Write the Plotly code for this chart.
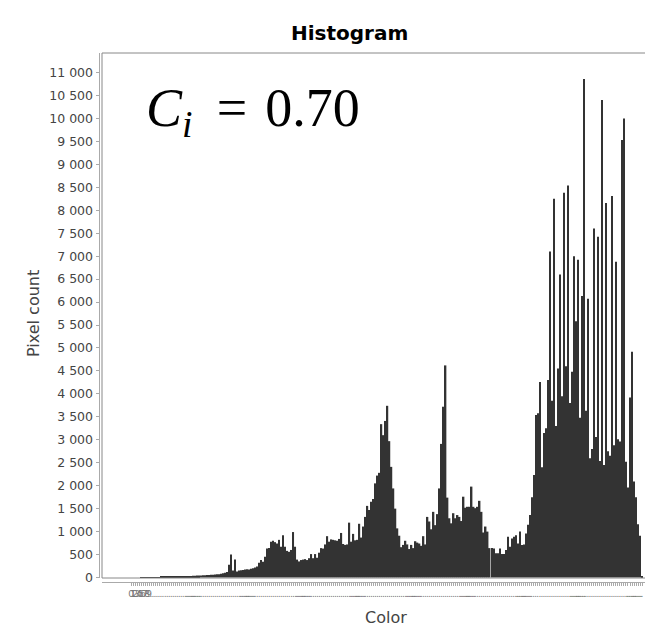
import plotly.graph_objects as go

# The page body adds an 8 px margin, so the figure is drawn 8 px smaller
# and all reference pixel positions are shifted by that amount.
OFF = 8
W, H = 653 - OFF, 628 - OFF

categories = list(range(256))

pixel_counts = [
    0, 0, 0, 0, 0, 1, 1, 2, 3, 4,
    5, 6, 7, 9, 10, 12, 13, 15, 16, 18,
    19, 21, 22, 24, 25, 27, 28, 30, 31, 33,
    35, 37, 38, 41, 43, 45, 48, 50, 53, 56,
    58, 61, 64, 68, 73, 80, 90, 102,
    120, 280, 500, 150, 390, 130, 150, 160, 165, 175, 180, 175,
    190, 200, 215, 240, 320, 380, 345, 450, 630, 640,
    780, 800, 770, 740, 820, 670, 920, 670, 580, 560,
    600, 990, 670, 390, 350, 380, 390, 400, 380, 420,
    510, 420, 510, 430, 540, 640, 630, 720, 900, 780,
    830, 820, 810, 800, 840, 970, 730, 710, 720, 1195,
    780, 950, 810, 820, 1170, 870, 1110, 1320, 1560, 1470,
    1650, 1710, 2050, 2220, 2280, 3340, 3100, 3410, 3740, 2970,
    2410, 1940, 1500, 1070, 910, 660, 710, 800, 720, 620,
    710, 640, 790, 760, 740, 690, 900, 720, 1320, 1220,
    1050, 1430, 1140, 1380, 1940, 2910, 3720, 4620, 1740, 1290,
    1180, 1400, 1290, 1360, 1320, 1230, 1760, 1520, 1540, 1540,
    1980, 1540, 1510, 1540, 1670, 1430, 980, 1110, 1000, 640,
    640, 630, 530, 530, 630, 510, 510, 600, 890, 670,
    850, 890, 920, 740, 1000, 710, 720, 960, 1150, 1360,
    1750, 2230, 3540, 3580, 4260, 2400, 3150, 3250, 4300, 7100,
    3850, 8250, 3300, 4550, 6600, 3950, 8380, 4600, 8540, 3800,
    4480, 7000, 5580, 6920, 3480, 6130, 10860, 3630, 6070, 2600,
    2800, 7600, 3060, 7420, 2540, 10400, 2450, 8160, 2750, 2650,
    8310, 2880, 6880, 3010, 2960, 9530, 10000, 2520, 1960, 3920,
    4920, 2090, 1750, 1160, 910, 20,
]

y_tick_values = list(range(0, 11001, 500))
y_tick_labels = ["0", "500", "1 000", "1 500", "2 000", "2 500", "3 000", "3 500",
                 "4 000", "4 500", "5 000", "5 500", "6 000", "6 500", "7 000",
                 "7 500", "8 000", "8 500", "9 000", "9 500", "10 000", "10 500",
                 "11 000"]

# category labels are truncated ("...") as in the original rendering
dash_categories = [31, 58, 86, 113, 141, 168, 196, 223, 251]
x_tick_labels = []
for c in categories:
    if c < 10:
        x_tick_labels.append(str(c))
    elif any(abs(c - d) <= 2 for d in dash_categories):
        x_tick_labels.append("...")
    else:
        x_tick_labels.append(".")

title_text = "<b>Histogram</b>"
x_title = "Color"
y_title = "Pixel count"
note_text = "<i>C</i><sub><i>i</i></sub>\u2005\u2009=\u20040.70"


def px(x):
    return (x - OFF) / W


def py(y):
    return 1 - (y - OFF) / H


# geometry in reference pixels
px_left, px_right, px_top, px_bottom = 102, 652, 53, 578
x_axis_y = 582
y_axis_x = 98.5

fig = go.Figure()
fig.add_trace(go.Bar(
    x=categories, y=pixel_counts, width=0.72,
    marker=dict(color="#333333", line=dict(width=0)),
    hoverinfo="x+y",
))

fig.update_layout(
    width=W, height=H,
    margin=dict(l=0, r=0, t=0, b=0),
    paper_bgcolor="white", plot_bgcolor="white",
    showlegend=False,
    font=dict(family="DejaVu Sans", color="#444444"),
    xaxis=dict(
        domain=[px(px_left), min(1.0, px(px_right))],
        anchor="free", position=py(x_axis_y),
        range=[-14.47, 259.98],
        tickmode="array", tickvals=categories, ticktext=x_tick_labels,
        tickangle=0, tickfont=dict(size=9, color="#777777"),
        ticks="outside", ticklen=3, tickwidth=0.6, tickcolor="#aaaaaa",
        showline=True, linecolor="#aaaaaa", linewidth=1,
        showgrid=False, zeroline=False, automargin=False,
    ),
    yaxis=dict(
        domain=[py(px_bottom), py(px_top)],
        anchor="free", position=px(y_axis_x),
        range=[-11, 11425],
        tickmode="array", tickvals=y_tick_values, ticktext=y_tick_labels,
        tickfont=dict(size=12.5, color="#444444"),
        ticks="outside", ticklen=3, tickcolor="#aaaaaa",
        showline=True, linecolor="#aaaaaa", linewidth=1,
        showgrid=False, zeroline=False, automargin=False,
    ),
    shapes=[dict(
        type="rect", xref="paper", yref="paper",
        x0=px(px_left), x1=min(1.0, px(px_right)),
        y0=py(px_bottom), y1=py(px_top),
        line=dict(color="#888888", width=1), fillcolor="rgba(0,0,0,0)",
        layer="above",
    )],
    annotations=[
        dict(text=title_text, xref="paper", yref="paper", x=px(349), y=py(33),
             showarrow=False, xanchor="center", yanchor="middle",
             font=dict(size=20, color="black", family="DejaVu Sans")),
        dict(text=x_title, xref="paper", yref="paper", x=px(386), y=py(617),
             showarrow=False, xanchor="center", yanchor="middle",
             font=dict(size=16, color="#444444", family="DejaVu Sans")),
        dict(text=y_title, xref="paper", yref="paper", x=px(33), y=py(314),
             showarrow=False, xanchor="center", yanchor="middle", textangle=-90,
             font=dict(size=16, color="#444444", family="DejaVu Sans")),
        dict(text=note_text, xref="paper", yref="paper", x=px(144), y=py(112),
             showarrow=False, xanchor="left", yanchor="middle",
             font=dict(size=54, color="black", family="Liberation Serif")),
    ],
)

fig.write_html("out.html")
